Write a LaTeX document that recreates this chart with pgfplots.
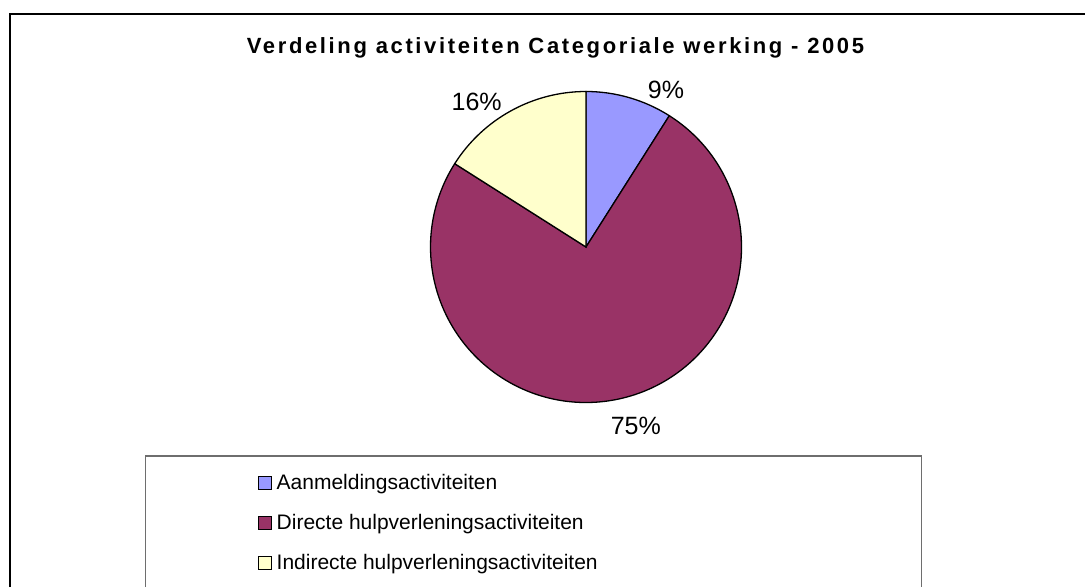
\documentclass[border=0pt]{standalone}
\usepackage{fontspec}
\setmainfont{Liberation Sans}
\newfontfamily\titlefont[LetterSpace=12]{Liberation Sans}
\usepackage{pgfplots}
\pgfplotsset{compat=1.18}
\usepackage{pgfplotstable}
\definecolor{cA}{HTML}{9999FF}
\definecolor{cB}{HTML}{993366}
\definecolor{cC}{HTML}{FFFFCC}
\definecolor{legframe}{HTML}{6E6E6E}

% share of each activity (percent), clockwise from 12 o'clock
\pgfplotstableread{
value
9
75
16
}\piedata

\begin{document}
\begin{tikzpicture}
\useasboundingbox (0,0) rectangle (1085pt,587pt);
\pgfplotstablegetelem{0}{value}\of\piedata \let\va\pgfplotsretval
\pgfplotstablegetelem{1}{value}\of\piedata \let\vb\pgfplotsretval
\pgfplotstablegetelem{2}{value}\of\piedata \let\vc\pgfplotsretval
\pgfmathsetmacro{\aA}{90}
\pgfmathsetmacro{\aB}{\aA-3.6*\va}
\pgfmathsetmacro{\aC}{\aB-3.6*\vb}
\pgfmathsetmacro{\aD}{\aC-3.6*\vc}
\begin{axis}[
  at={(0,0)}, anchor=south west,
  width=1085pt, height=587pt, scale only axis,
  xmin=0, xmax=1085, ymin=0, ymax=587,
  hide axis,
  legend style={at={(axis cs:258,114)}, anchor=north west, draw=none, fill=none,
    font=\fontsize{21}{25}\selectfont, row sep=19pt, inner sep=0pt,
    nodes={text height=16pt, text depth=5pt, inner ysep=0pt, inner xsep=4.5pt}},
  legend cell align=left,
  legend image code/.code={\draw[#1, line width=1pt] (0pt,-6pt) rectangle (13pt,7pt);},
]
% outer frame
\draw[black, line width=2.5pt] (axis cs:9.8,0) -- (axis cs:9.8,573) -- (axis cs:1085,573);
% title
\node[anchor=base, font=\titlefont\bfseries\fontsize{22}{26}\selectfont] at (axis cs:555.5,533.7) {Verdeling activiteiten Categoriale werking - 2005};
% pie slices
\filldraw[fill=cA, draw=black, line width=1.3pt] (axis cs:586,340) -- ++(\aA:155.5pt) arc[start angle=\aA, end angle=\aB, radius=155.5pt] -- cycle;
\filldraw[fill=cB, draw=black, line width=1.3pt] (axis cs:586,340) -- ++(\aB:155.5pt) arc[start angle=\aB, end angle=\aC, radius=155.5pt] -- cycle;
\filldraw[fill=cC, draw=black, line width=1.3pt] (axis cs:586,340) -- ++(\aC:155.5pt) arc[start angle=\aC, end angle=\aD, radius=155.5pt] -- cycle;
% labels
\node[anchor=base, font=\fontsize{25}{30}\selectfont] at (axis cs:666,488.7) {9\%};
\node[anchor=base, font=\fontsize{25}{30}\selectfont] at (axis cs:476.7,476.3) {16\%};
\node[anchor=base, font=\fontsize{25}{30}\selectfont] at (axis cs:635.8,152) {75\%};
% legend frame
\draw[legframe, line width=1.5pt] (axis cs:145.7,0) -- (axis cs:145.7,131) -- (axis cs:921.7,131) -- (axis cs:921.7,0);
\addlegendimage{fill=cA, draw=black}
\addlegendentry{Aanmeldingsactiviteiten}
\addlegendimage{fill=cB, draw=black}
\addlegendentry{Directe hulpverleningsactiviteiten}
\addlegendimage{fill=cC, draw=black}
\addlegendentry{Indirecte hulpverleningsactiviteiten}
\end{axis}
\end{tikzpicture}
\end{document}
